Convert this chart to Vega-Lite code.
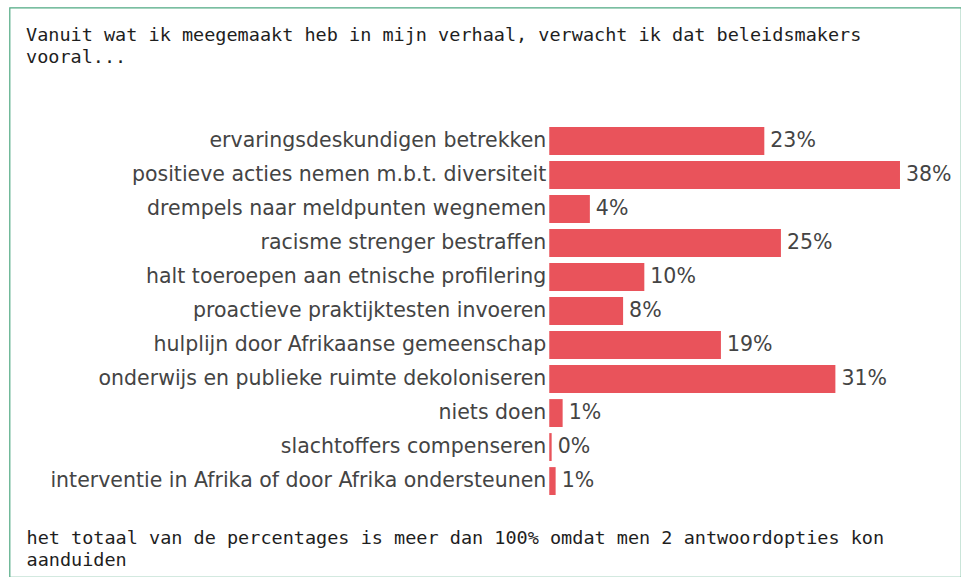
{
  "$schema": "https://vega.github.io/schema/vega-lite/v6.json",
  "autosize": "none",
  "width": 951.5,
  "height": 569.5,
  "padding": {"left": 9.5, "top": 7.5, "right": 0, "bottom": 0},
  "background": "white",
  "config": {"view": {"stroke": "#4fa982", "strokeWidth": 1.2}},
  "title": {
    "text": ["Vanuit wat ik meegemaakt heb in mijn verhaal, verwacht ik dat beleidsmakers", "vooral..."],
    "anchor": "start",
    "frame": "group",
    "orient": "top",
    "offset": -59,
    "dx": 16.5,
    "font": "DejaVu Sans Mono",
    "fontSize": 18.5,
    "fontWeight": "normal",
    "lineHeight": 22,
    "color": "#1e1e1e"
  },
  "data": {
    "values": [
      {"optie": "ervaringsdeskundigen betrekken", "pct": 23.3, "label": "23%"},
      {"optie": "positieve acties nemen m.b.t. diversiteit", "pct": 38, "label": "38%"},
      {"optie": "drempels naar meldpunten wegnemen", "pct": 4.4, "label": "4%"},
      {"optie": "racisme strenger bestraffen", "pct": 25.1, "label": "25%"},
      {"optie": "halt toeroepen aan etnische profilering", "pct": 10.3, "label": "10%"},
      {"optie": "proactieve praktijktesten invoeren", "pct": 8, "label": "8%"},
      {"optie": "hulplijn door Afrikaanse gemeenschap", "pct": 18.6, "label": "19%"},
      {"optie": "onderwijs en publieke ruimte dekoloniseren", "pct": 31, "label": "31%"},
      {"optie": "niets doen", "pct": 1.45, "label": "1%"},
      {"optie": "slachtoffers compenseren", "pct": 0.26, "label": "0%"},
      {"optie": "interventie in Afrika of door Afrika ondersteunen", "pct": 0.69, "label": "1%"}
    ]
  },
  "encoding": {
    "y": {
      "field": "optie",
      "type": "nominal",
      "sort": null,
      "axis": null,
      "scale": {"range": [102.5, 504.5], "paddingInner": 0.18, "paddingOuter": 0.5}
    }
  },
  "layer": [
    {
      "mark": {"type": "bar", "color": "#e9535b"},
      "encoding": {
        "x": {
          "field": "pct",
          "type": "quantitative",
          "scale": {"domain": [-58.48, 44.61], "nice": false, "zero": false},
          "axis": {
            "domain": false,
            "ticks": false,
            "labels": false,
            "grid": false,
            "title": ["het totaal van de percentages is meer dan 100% omdat men 2 antwoordopties kon", "aanduiden"],
            "titleX": 16.5,
            "titleY": -34,
            "titleAlign": "left",
            "titleAnchor": "start",
            "titleBaseline": "alphabetic",
            "titleFont": "DejaVu Sans Mono",
            "titleFontSize": 18.5,
            "titleFontWeight": "normal",
            "titleLineHeight": 22,
            "titleColor": "#1e1e1e"
          }
        }
      }
    },
    {
      "mark": {"type": "text", "align": "left", "baseline": "middle", "dx": 6, "font": "DejaVu Sans", "fontSize": 20.5, "color": "#444444"},
      "encoding": {
        "x": {"field": "pct", "type": "quantitative"},
        "text": {"field": "label"}
      }
    },
    {
      "mark": {"type": "text", "align": "right", "baseline": "middle", "dx": -3, "font": "DejaVu Sans", "fontSize": 20.5, "color": "#444444"},
      "encoding": {
        "x": {"datum": 0, "type": "quantitative"},
        "text": {"field": "optie"}
      }
    }
  ]
}
